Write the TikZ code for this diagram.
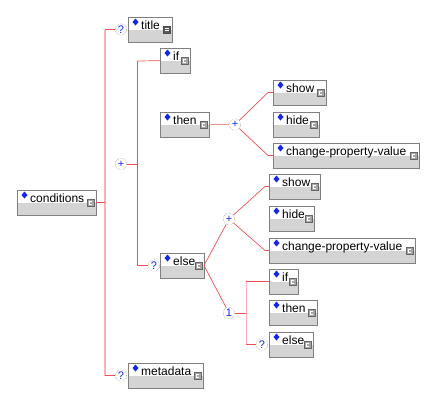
\documentclass[tikz,border=0pt]{standalone}
\usepackage{fontspec}
\setmainfont{Liberation Sans}
\usepackage{xcolor}
\usepackage{tikz}
\usetikzlibrary{calc, positioning}

\definecolor{boxgray}{RGB}{212,212,212}
\definecolor{boxline}{RGB}{128,128,128}
\definecolor{wirered}{RGB}{240,80,80}
\definecolor{wirepink}{RGB}{255,176,176}
\definecolor{markblue}{RGB}{20,40,230}

% element box: [icon style]{name}{top left}{width}{text}
\newcommand{\xelem}[5][iconref]{%
  \node[elbox, minimum width=#4pt] (#2) at (#3) {};
  \node[eltext] (#2-t) at ([xshift=13pt,yshift=-12pt]#2.north west) {#5};
  \fill[markblue] ([xshift=7.5pt,yshift=-1.5pt]#2.north west) -- ++(3pt,-3.5pt) -- ++(-3pt,-3.5pt) -- ++(-3pt,3.5pt) -- cycle;
  \node[#1] (#2-i) at ([xshift=-5pt,yshift=-12.5pt]#2.north east) {};
}

\begin{document}
\begin{tikzpicture}[x=1pt, y=-1pt,
    elbox/.style={draw=boxline, fill=white, anchor=north west, minimum height=25pt,
      inner sep=0pt, outer sep=0pt,
      path picture={\fill[boxgray] ([yshift=-13pt]path picture bounding box.north west)
        rectangle (path picture bounding box.south east);}},
    eltext/.style={anchor=base west, inner sep=0pt, font=\fontsize{12}{13}\selectfont},
    iconref/.style={draw=black!60, fill=black!35, minimum size=7pt, inner sep=0pt,
      path picture={\draw[white, line width=0.6pt]
        ([shift={(4.5pt,-2pt)}]path picture bounding box.north west) -- ++(-2.5pt,0pt)
        -- ++(0pt,-3pt) -- ++(2.5pt,0pt);}},
    iconsimp/.style={draw=black!70, fill=black!65, minimum size=7pt, inner sep=0pt,
      path picture={\draw[white, line width=0.5pt]
        ([shift={(1.5pt,-2.5pt)}]path picture bounding box.north west) -- ++(4pt,0pt)
        ([shift={(1.5pt,-4.5pt)}]path picture bounding box.north west) -- ++(4pt,0pt);}},
    cmp/.style={circle, draw=gray, densely dotted, fill=white, minimum size=11.5pt,
      inner sep=0pt, text=markblue, font=\fontsize{11}{11}\selectfont},
    wire/.style={draw=wirered, line width=0.7pt},
    trunk/.style={draw=wirepink, line width=1.6pt},
    thickwire/.style={draw=wirered!65!white, line width=1.8pt}]
    \useasboundingbox (0,0) rectangle (434,405);

    % 1. Hop phan tu
    \xelem{conditions}{17,190}{79}{conditions}
    \xelem[iconsimp]{title}{128,17}{44}{title}
    \xelem{if1}{160,48}{30}{if}
    \xelem{then1}{160,112}{49}{then}
    \xelem{show1}{273,80}{53}{show}
    \xelem{hide1}{273,112}{46}{hide}
    \xelem{cpv1}{273,143}{146}{change-property-value}
    \xelem{else1}{160,253}{44}{else}
    \xelem{show2}{269,174}{51}{show}
    \xelem{hide2}{269,206}{45}{hide}
    \xelem{cpv2}{269,238}{146}{change-property-value}
    \xelem{if2}{269,269}{29}{if}
    \xelem{then2}{269,300}{48}{then}
    \xelem{else2}{269,332}{44}{else}
    \xelem{metadata}{128,363}{75}{metadata}

    % 2. Vong tron to hop
    \node[cmp] (opt1) at (121,29.5) {?};
    \node[cmp] (seq1) at (121,164) {+};
    \node[cmp] (opt2) at (154,265.5) {?};
    \node[cmp] (seq2) at (235,124.5) {+};
    \node[cmp] (seq3) at (229,219) {+};
    \node[cmp] (ch1) at (229,313) {1};
    \node[cmp] (opt3) at (262,344.5) {?};
    \node[cmp] (opt4) at (121,375.5) {?};

    % 3. Duong noi
    \coordinate (tr1) at (105,29.5);
    \coordinate (tr2) at (105,375.5);
    \draw[trunk] (tr1) -- (tr2);
    \draw[wire] (conditions.east) -- (conditions.east -| tr1);
    \draw[wire] (tr1) -- (opt1);
    \draw[wire] (tr2) -- (opt4);

    \coordinate (br1) at (137,61);
    \coordinate (br2) at (137,265.5);
    \draw[wire] (br1) -- (br2);
    \draw[wire] (seq1) -- (seq1 -| br1);
    \draw[wire] (br1) -- (if1);
    \draw[wire] (br2) -- (opt2);

    \draw[thickwire] (then1) -- (seq2);
    \draw[wire] (seq2) -- ([xshift=-5pt]show1.west) -- (show1.west);
    \draw[wire] (seq2) -- ([xshift=-5pt]cpv1.west) -- (cpv1.west);

    \draw[wire] (else1.east) -- (seq3);
    \draw[wire] (else1.east) -- (ch1);
    \draw[wire] (seq3) -- ([xshift=-4pt]show2.west) -- (show2.west);
    \draw[wire] (seq3) -- ([xshift=-4pt]cpv2.west) -- (cpv2.west);

    \coordinate (br3) at (246,281.5);
    \coordinate (br4) at (246,344.5);
    \draw[trunk, line width=1pt] (br3) -- (br4);
    \draw[wire] (ch1) -- (ch1 -| br3);
    \draw[wire] (br3) -- (if2);
    \draw[wire] (br4) -- (opt3);
\end{tikzpicture}
\end{document}
